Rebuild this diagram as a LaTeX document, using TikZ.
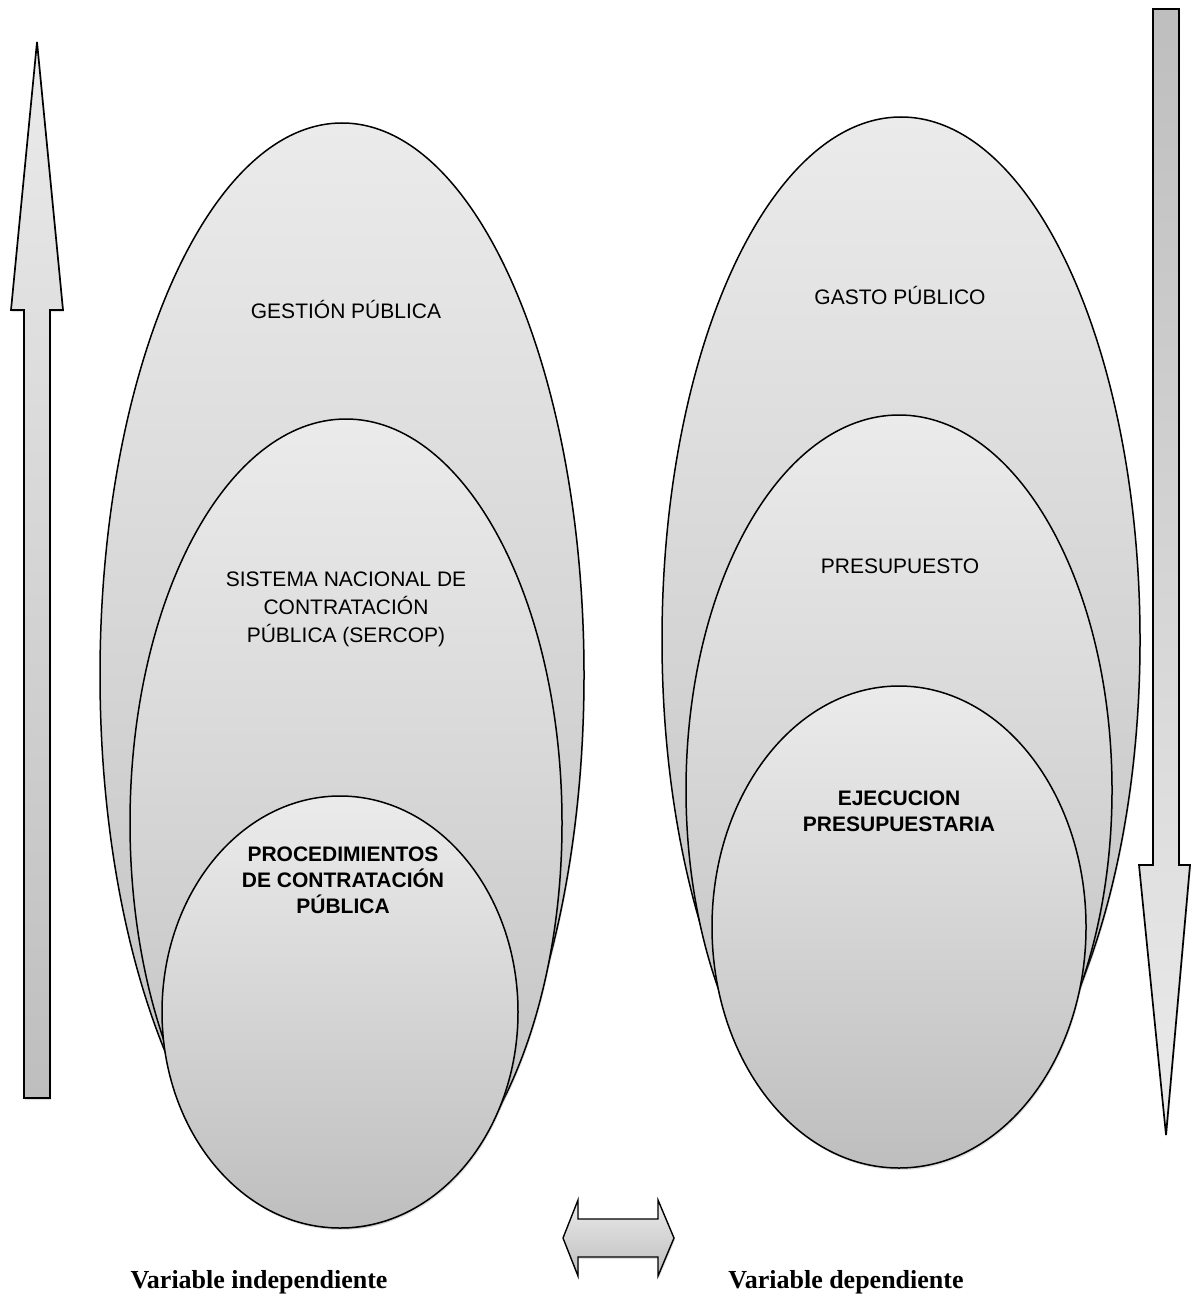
\documentclass[tikz,border=0pt]{standalone}
\usepackage{fontspec}
\setmainfont{Liberation Serif}
\setsansfont{Liberation Sans}
\usetikzlibrary{shadows}
\definecolor{grisclaro}{HTML}{EBEBEB}
\definecolor{grisoscuro}{HTML}{BEBEBE}

\begin{document}
\begin{tikzpicture}[x=1pt,y=-1pt,
    sombra/.style={drop shadow={opacity=0.25,shadow xshift=1pt,shadow yshift=-2pt}},
    elipse/.style={draw=black, line width=1.5pt, top color=grisclaro, bottom color=grisoscuro, sombra},
    flecha/.style={draw=black, line width=1.7pt, line join=miter, sombra},
    texto/.style={font=\sffamily\fontsize{21}{28}\selectfont, align=center},
    textob/.style={align=center, font=\sffamily\bfseries\fontsize{21}{26}\selectfont},
    etiqueta/.style={font=\bfseries\fontsize{26}{30}\selectfont}]
	\useasboundingbox (0,0) rectangle (1192,1300);

	% Dibujar las flechas laterales
	\draw[flecha, top color=grisclaro, bottom color=grisoscuro] (24,1098) -- (24,310) -- (11,310) -- (37,42) -- (63,310) -- (50,310) -- (50,1098) -- cycle;
	\draw[flecha, top color=grisoscuro, bottom color=grisclaro] (1153,9) -- (1179,9) -- (1179,865) -- (1190,865) -- (1166,1135) -- (1139,865) -- (1153,865) -- cycle;

	% Dibujar las elipses de la variable independiente
	\path[elipse] (342,675) ellipse [x radius=242pt, y radius=552pt];
	\path[elipse] (346,823) ellipse [x radius=216pt, y radius=404pt];
	\path[elipse] (340,1012) ellipse [x radius=178pt, y radius=216pt];

	% Dibujar las elipses de la variable dependiente
	\path[elipse] (901,640) ellipse [x radius=239pt, y radius=523pt];
	\path[elipse] (899,790) ellipse [x radius=213pt, y radius=375pt];
	\path[elipse] (899,927) ellipse [x radius=187pt, y radius=241pt];

	% Dibujar los textos
	\node[texto] (gestion) at (346,309) {GESTIÓN PÚBLICA};
	\node[texto] (sercop) at (346,609) {SISTEMA NACIONAL DE\\CONTRATACIÓN\\PÚBLICA (SERCOP)};
	\node[textob] (procedimientos) at (343,880) {PROCEDIMIENTOS\\DE CONTRATACIÓN\\PÚBLICA};
	\node[texto] (gasto) at (900,295) {GASTO PÚBLICO};
	\node[texto] (presupuesto) at (900,566) {PRESUPUESTO};
	\node[textob] (ejecucion) at (899,811) {EJECUCION\\PRESUPUESTARIA};

	% Dibujar la flecha doble y las etiquetas
	\draw[flecha, line width=1.4pt, top color=grisclaro, bottom color=grisoscuro] (563,1238) -- (578,1200) -- (578,1219) -- (658,1219) -- (658,1200) -- (674,1238) -- (658,1276) -- (658,1257) -- (578,1257) -- (578,1276) -- cycle;
	\node[etiqueta] (independiente) at (259,1282) {Variable independiente};
	\node[etiqueta] (dependiente) at (846,1282) {Variable dependiente};

\end{tikzpicture}
\end{document}
